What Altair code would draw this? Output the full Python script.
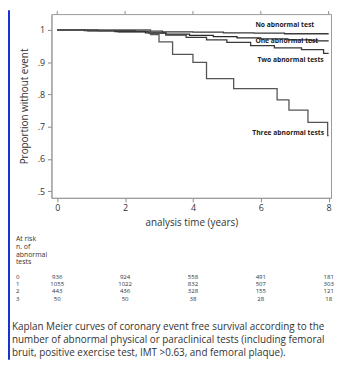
import altair as alt
import pandas as pd

# ---------------- data ----------------
groups = ["No abnormal test", "One abnormal test", "Two abnormal tests", "Three abnormal tests"]

t_none = [0, 1.2, 2.3, 3.1, 4.0, 4.9, 5.8, 6.7, 8.0]
s_none = [1.0, 0.998, 0.996, 0.994, 0.993, 0.991, 0.990, 0.988, 0.988]

t_one = [0, 0.8, 1.7, 2.6, 3.2, 3.9, 4.6, 5.3, 6.0, 6.8, 7.5, 8.0]
s_one = [1.0, 0.998, 0.995, 0.991, 0.987, 0.983, 0.979, 0.975, 0.972, 0.969, 0.966, 0.966]

t_two = [0, 0.9, 1.8, 2.7, 3.2, 3.8, 4.4, 5.0, 5.7, 6.4, 7.2, 7.85, 8.0]
s_two = [1.0, 0.997, 0.994, 0.990, 0.984, 0.977, 0.969, 0.961, 0.951, 0.944, 0.939, 0.927, 0.927]

t_three = [0, 2.75, 3.0, 3.4, 4.0, 4.4, 5.2, 6.48, 6.83, 7.39, 7.97, 8.0]
s_three = [1.0, 0.985, 0.963, 0.924, 0.899, 0.849, 0.818, 0.783, 0.751, 0.713, 0.672, 0.672]

risk_years = [0, 2, 4, 6, 8]
risk_rows = ["0", "1", "2", "3"]
risk_0 = [936, 924, 558, 491, 181]
risk_1 = [1055, 1022, 832, 507, 303]
risk_2 = [443, 436, 328, 155, 121]
risk_3 = [50, 50, 38, 28, 18]

x_ticks = [0, 2, 4, 6, 8]
y_ticks = [0.5, 0.6, 0.7, 0.8, 0.9, 1.0]

header_lines = ["At risk", "n. of", "abnormal", "tests"]
caption_lines = [
    "Kaplan Meier curves of coronary event free survival according to the",
    "number of abnormal physical or paraclinical tests (including femoral",
    "bruit, positive exercise test, IMT >0.63, and femoral plaque).",
]

# ---------------- tables ----------------
series = [(t_none, s_none), (t_one, s_one), (t_two, s_two), (t_three, s_three)]
rows = []
for g, (ts, ss) in zip(groups, series):
    for t, s in zip(ts, ss):
        rows.append({"group": g, "t": t, "s": s})
curves = pd.DataFrame(rows)

# label anchors (layout)
label_t = [5.84, 5.84, 5.9, 5.75]
label_s = [1.014, 0.966, 0.905, 0.681]
labels = pd.DataFrame({"group": groups, "t": label_t, "s": label_s})

W, H = 283, 186
x_scale = alt.Scale(domain=[-0.17, 8.07], nice=False, zero=False)
y_scale = alt.Scale(domain=[0.479, 1.049], nice=False, zero=False)

FONT = "Open Sans"
GREY = "#333333"

x_axis = alt.Axis(values=x_ticks, title="analysis time (years)", grid=False,
                  tickSize=4, labelPadding=2, labelFontSize=9, titleFontSize=10,
                  titlePadding=5, labelColor=GREY, titleColor=GREY, tickColor="#888",
                  domainColor="#999", titleFont=FONT, labelFont=FONT,
                  titleFontWeight="normal", labelOverlap=False)
y_axis = alt.Axis(values=y_ticks, title="Proportion without event", grid=False,
                  labelExpr="datum.value >= 1 ? '1' : replace(format(datum.value, '.1f'), '0.', '.')",
                  tickSize=4, labelPadding=3, labelFontSize=9, titleFontSize=10,
                  titlePadding=8, labelColor=GREY, titleColor=GREY, tickColor="#888",
                  domainColor="#999", titleFont=FONT, labelFont=FONT,
                  titleFontWeight="normal", labelOverlap=False)

X = alt.X("t:Q", scale=x_scale, axis=x_axis)
Y = alt.Y("s:Q", scale=y_scale, axis=y_axis)

lines = alt.Chart(curves).mark_line(interpolate="step-after", strokeWidth=1.3).encode(
    x=X, y=Y,
    color=alt.Color("group:N", scale=alt.Scale(domain=groups,
                    range=["#3a3a3a", "#2a2a2a", "#3a3a3a", "#555555"]), legend=None),
    detail="group:N",
)

# mirrored ticks on top edge
top_ticks = alt.Chart(pd.DataFrame({"t": x_ticks})).mark_rule(color="#888", strokeWidth=1).encode(
    x=X, y=alt.value(-3), y2=alt.value(0))

curve_labels = alt.Chart(labels).mark_text(align="left", baseline="middle", fontSize=6.8,
                                           font=FONT, fontWeight="bold", color="#222").encode(
    x=X, y=Y, text="group:N",
)

layers = [lines, top_ticks, curve_labels]

# at-risk table
risk_all = [risk_0, risk_1, risk_2, risk_3]
one = pd.DataFrame({"a": [0]})
for i, (lab, vals) in enumerate(zip(risk_rows, risk_all)):
    ypix = 266 + 7.4 * i
    d = pd.DataFrame({"t": risk_years, "n": [str(v) for v in vals]})
    layers.append(
        alt.Chart(d).mark_text(fontSize=6.1, font=FONT, color=GREY, baseline="middle").encode(
            x=X, y=alt.value(ypix), text="n:N")
    )
    layers.append(
        alt.Chart(one).mark_text(fontSize=6.1, font=FONT, color=GREY, align="left",
                                 baseline="middle", text=lab).encode(
            x=alt.value(-36), y=alt.value(ypix))
    )

layers.append(
    alt.Chart(one).mark_text(fontSize=7, font=FONT, color=GREY, align="left", baseline="top",
                             lineHeight=7.7, text=header_lines).encode(
        x=alt.value(-36), y=alt.value(224))
)
layers.append(
    alt.Chart(one).mark_text(fontSize=10, font=FONT, color=GREY, align="left", baseline="top",
                             lineHeight=13, text=caption_lines).encode(
        x=alt.value(-40), y=alt.value(312))
)
# blue slide edge
layers.append(
    alt.Chart(one).mark_rect(color="#1a2fd0").encode(
        x=alt.value(-44), x2=alt.value(-42), y=alt.value(-4), y2=alt.value(350))
)

chart = alt.layer(*layers).properties(
    width=W, height=H,
    autosize=alt.AutoSizeParams(type="none"),
    padding={"left": 44, "top": 4, "right": 3, "bottom": 164},
    background="white",
).configure_view(stroke="#999", strokeWidth=1)

chart.save("out.html", embed_options={"renderer": "svg", "actions": False})
